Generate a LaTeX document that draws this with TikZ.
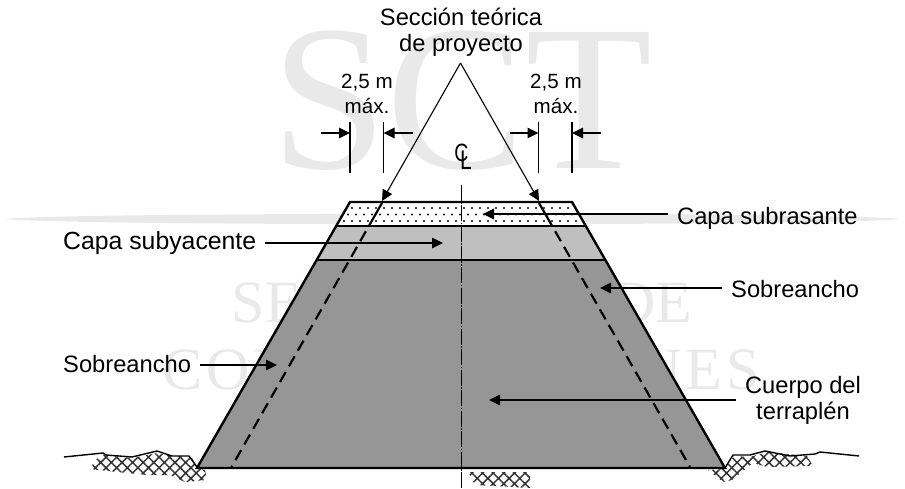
\documentclass[tikz,border=0pt]{standalone}
\usepackage{fontspec}
\setmainfont{Liberation Sans}
\newfontfamily\wmfont{Liberation Serif}
\usetikzlibrary{arrows.meta,patterns.meta}
\definecolor{wm}{gray}{0.915}
\definecolor{body}{gray}{0.59}
\definecolor{subya}{gray}{0.75}
\tikzset{
 lab/.style={font=\fontsize{23.7}{26}\selectfont,inner sep=0pt,align=center},
 dimlab/.style={font=\fontsize{20.6}{25}\selectfont,inner sep=0pt,align=center},
 wmark/.style={text=wm,inner sep=0pt},
 thin arrow/.style={line width=1.1pt,-{Triangle[length=11pt,width=10.5pt]}},
 lead arrow/.style={thin arrow,shorten <=9pt},
 tick/.style={line width=1.1pt},
 outline/.style={line width=2.4pt,line join=miter},
 dashline/.style={line width=2.2pt,dash pattern=on 26pt off 6.5pt on 11.5pt off 6.5pt on 11.5pt off 6.5pt on 11.5pt off 6.5pt on 11.5pt off 6.5pt on 11.5pt off 6.5pt on 11.5pt off 6.5pt on 11.5pt off 6.5pt on 11.5pt off 6.5pt on 11.5pt off 6.5pt on 11.5pt off 6.5pt on 11.5pt off 6.5pt on 11.5pt off 6.5pt on 11.5pt off 6.5pt on 11.5pt off 6.5pt on 11.5pt off 6.5pt on 40pt off 0pt},
 centerline/.style={line width=1.1pt,dash pattern=on 16pt off 1.5pt on 1.5pt off 1.5pt},
 ground/.style={line width=1.4pt,line join=round},
 soil/.style={pattern={Hatch[angle=45,distance=7.5pt,line width=1.5pt]},pattern color=black!80}
}
\begin{document}
\begin{tikzpicture}[x=1pt,y=-1pt]
\useasboundingbox (0,0) rectangle (905,489);
% watermark
\node[wmark,font=\wmfont\fontsize{208}{208}\selectfont] (wm1) at (462,101) {SCT};
\fill[wm] (5,219) .. controls (60,212) and (850,212) .. (900,219) .. controls (850,226) and (60,226) .. (5,219) -- cycle;
\node[wmark,font=\wmfont\fontsize{60}{60}\selectfont] (wm2) at (462,297) {SECRETARÍA DE};
\node[wmark,font=\wmfont\fontsize{60}{60}\selectfont\addfontfeature{LetterSpace=7}] (wm3) at (461,370) {COMUNICACIONES};
% soil
\fill[soil] (95,460) -- (90,469) -- (117,472) -- (147,475) -- (170,475) -- (185,482) -- (207,480) -- (205,470) -- (197,468) -- (192,458) -- (157,453) -- (132,458) -- (103,455) -- cycle;
\fill[soil] (708,470) -- (723,482) -- (732,480) -- (753,463) -- (767,467) -- (813,466) -- (807,456) -- (767,452) -- (750,457) -- (734,456) -- (725,469) -- cycle;
\fill[soil] (468,472) -- (475,485) -- (530,488) -- (530,472) -- cycle;
% section
\coordinate (tl) at (350,202);
\coordinate (tr) at (572,202);
\coordinate (ml) at (336,226);
\coordinate (mr) at (586,226);
\coordinate (nl) at (316.5,260);
\coordinate (nr) at (606,260);
\coordinate (bl) at (197,468);
\coordinate (br) at (725,468);
\fill[white] (tl) -- (tr) -- (mr) -- (ml) -- cycle;
\begin{scope}
\clip (tl) -- (tr) -- (mr) -- (ml) -- cycle;
\foreach \r/\s in {208/0,214.5/4,221/0}{
 \foreach \i in {0,...,31}{
  \fill (336+\s+8*\i,\r) circle (1.1);
 }
}
\end{scope}
\fill[subya] (ml) -- (mr) -- (nr) -- (nl) -- cycle;
\fill[body] (nl) -- (nr) -- (br) -- (bl) -- cycle;
% dashed
\coordinate (dl0) at (382,203);
\coordinate (dl1) at (231.5,467);
\coordinate (dr0) at (539,203);
\coordinate (dr1) at (690,467);
\draw[dashline] (dl0) -- (dl1);
\draw[dashline] (dr0) -- (dr1);
% outline
\draw[outline] (ml) -- (mr);
\draw[outline] (nl) -- (nr);
\draw[outline] (bl) -- (tl) -- (tr) -- (br) -- cycle;
% center line
\coordinate (c0) at (461.5,185);
\coordinate (c1) at (461.5,488);
\draw[centerline] (c0) -- (c1);
\node[inner sep=0pt,font=\fontsize{25}{25}\selectfont] (clc) at (461.5,152.5) {\scalebox{0.78}[1]{C}};
\node[inner sep=0pt,font=\fontsize{27}{27}\selectfont] (cll) at (466,160) {\scalebox{0.78}[1]{L}};
% ground
\draw[ground] (64,457) -- (103,453) -- (106,455) -- (132,457) -- (157,451) -- (172,456) -- (189,456) -- (197,467);
\draw[ground] (725,468) -- (733,455) -- (750,455) -- (765,451) -- (790,456) -- (815,454) -- (820,452) -- (859,456);
% top
\node[lab] (title) at (461,32) {Sección teórica\\de proyecto};
\coordinate (apex) at (460.5,63);
\coordinate (al) at (382,201);
\coordinate (ar) at (539,201);
\draw[thin arrow] (apex) -- (al);
\draw[thin arrow] (apex) -- (ar);
% dims
\node[dimlab] (d1) at (367,94) {2,5 m\\máx.};
\node[dimlab] (d2) at (556,94) {2,5 m\\máx.};
\foreach \n/\a/\b in {a/350/383.5,b/538.5/572}{
 \coordinate (\n1) at (\a,133); \coordinate (\n2) at (\a,122); \coordinate (\n7) at (\a,173);
 \coordinate (\n3) at (\b,133); \coordinate (\n4) at (\b,122); \coordinate (\n8) at (\b,173);
 \coordinate (\n5) at (\a-29,133); \coordinate (\n6) at (\b+29,133);
 \draw[tick] (\n2) -- (\n7);
 \draw[tick] (\n4) -- (\n8);
 \draw[thin arrow] (\n5) -- (\n1);
 \draw[thin arrow] (\n6) -- (\n3);
}
% labels
\node[lab,anchor=west] (subr) at (677,218) {Capa subrasante};
\coordinate (subrt) at (483,214);
\draw[lead arrow] (subr.west |- subrt) -- (subrt);
\node[lab,anchor=west,font=\fontsize{24.8}{26}\selectfont] (suby) at (63,243) {Capa subyacente};
\coordinate (subyt) at (443,243);
\draw[lead arrow] (suby.east |- subyt) -- (subyt);
\node[lab,anchor=west] (sr) at (731,289) {Sobreancho};
\coordinate (srt) at (600,288);
\draw[lead arrow] (sr.west |- srt) -- (srt);
\node[lab,anchor=west] (sl) at (63,364) {Sobreancho};
\coordinate (slt) at (277,365);
\draw[lead arrow] (sl.east |- slt) -- (slt);
\node[lab] (cu) at (803,400) {Cuerpo del\\terraplén};
\coordinate (cut) at (489,400);
\draw[lead arrow] (cu.west |- cut) -- (cut);
\end{tikzpicture}
\end{document}
